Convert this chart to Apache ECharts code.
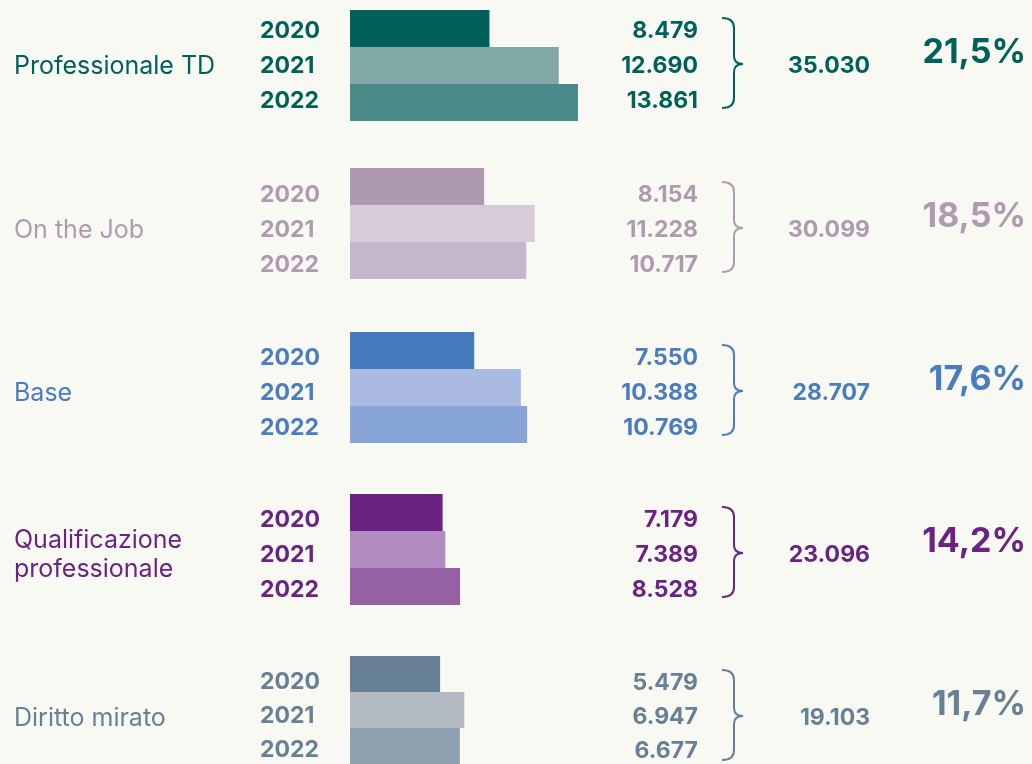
<!DOCTYPE html>
<html>
<head>
<meta charset="utf-8">
<script src="https://cdn.jsdelivr.net/npm/echarts@6/dist/echarts.min.js"></script>
<style>
  html, body { margin: 0; padding: 0; background: #f9f9f4; }
  #main { width: 1032px; height: 764px; }
</style>
</head>
<body>
<div id="main"></div>
<script>
// dati
var categorie = ['Professionale TD', 'On the Job', 'Base', 'Qualificazione\nprofessionale', 'Diritto mirato'];
var anni = ['2020', '2021', '2022'];
var valori = [
    [8479, 12690, 13861],
    [8154, 11228, 10717],
    [7550, 10388, 10769],
    [7179, 7389, 8528],
    [5479, 6947, 6677]
];
var percentuali = ['21,5%', '18,5%', '17,6%', '14,2%', '11,7%'];
// fondo scala di ogni gruppo (il gruppo 4 nell'originale ha barre più corte)
var assiMax = [20000, 20000, 20000, 25500, 20000];

// colori per gruppo: testo, barre 2020/2021/2022
var coloriTesto = ['#00605a', '#b09ab0', '#4a7cc0', '#6b2383', '#678096'];
var coloriBarre = [
    ['#00605a', '#80a8a6', '#4a8a88'],
    ['#ae9ab0', '#d8cbd9', '#c5b6c9'],
    ['#457bbd', '#aabae2', '#87a5d6'],
    ['#6b2383', '#b08bc0', '#9461a5'],
    ['#678096', '#b3bac4', '#8fa1b0']
];

var font = 'Inter, "Noto Sans", sans-serif';
var gridTops = [10, 168, 332, 494, 656];   // bordo alto delle barre
var centriTesto = [64, 228, 391, 553, 716]; // riga centrale delle etichette
var gridH = 111;
var passoRighe = 35;
var sizeNum = 23;
var dyTesto = 2; // correzione ottica del verticalAlign middle

function fmt(n) {
    return String(n).replace(/\B(?=(\d{3})+(?!\d))/g, '.');
}

// spostamento verticale tra centro barra e riga di testo
function scarto(i, j) {
    var yTesto = centriTesto[i] + passoRighe * (j - 1) + dyTesto;
    var yBarra = gridTops[i] + gridH / 6 + j * gridH / 3;
    return yTesto - yBarra;
}
function pad(d) {
    return d >= 0 ? [2 * d, 0, 0, 0] : [0, 0, -2 * d, 0];
}

var myChart = echarts.init(document.getElementById('main'));

var grids = [], xAxes = [], yAxes = [], series = [], graphics = [];

function curva(x1, y1, cx1, cy1, cx2, cy2, x2, y2, col) {
    return {
        type: 'bezierCurve',
        shape: { x1: x1, y1: y1, cpx1: cx1, cpy1: cy1, cpx2: cx2, cpy2: cy2, x2: x2, y2: y2 },
        style: { stroke: col, lineWidth: 2, fill: 'none' }
    };
}
function linea(x1, y1, x2, y2, col) {
    return {
        type: 'line',
        shape: { x1: x1, y1: y1, x2: x2, y2: y2 },
        style: { stroke: col, lineWidth: 2 }
    };
}

for (var i = 0; i < categorie.length; i++) {
    var gTop = gridTops[i];
    var cy = centriTesto[i];
    var col = coloriTesto[i];

    var rich = {};
    for (var j = 0; j < anni.length; j++) {
        rich['r' + j] = {
            color: col, fontFamily: font, fontWeight: 'bold', fontSize: sizeNum,
            padding: pad(scarto(i, j))
        };
    }

    grids.push({ left: 350, top: gTop, width: 329, height: gridH });
    xAxes.push({
        gridIndex: i, type: 'value', min: 0, max: assiMax[i],
        show: false
    });
    yAxes.push({
        gridIndex: i, type: 'category', data: anni, inverse: true,
        axisLine: { show: false }, axisTick: { show: false },
        axisLabel: {
            margin: 90, align: 'left',
            color: col, fontFamily: font, fontWeight: 'bold', fontSize: sizeNum,
            formatter: function (v, idx) { return '{r' + idx + '|' + v + '}'; },
            rich: rich
        }
    });
    series.push({
        type: 'bar',
        xAxisIndex: i, yAxisIndex: i,
        barCategoryGap: 0,
        data: valori[i].map(function (v, j) {
            return {
                value: v,
                itemStyle: { color: coloriBarre[i][j] },
                label: { position: [348, gridH / 6 + scarto(i, j)] }
            };
        }),
        label: {
            show: true,
            align: 'right', verticalAlign: 'middle',
            color: col, fontFamily: font, fontWeight: 'bold', fontSize: sizeNum,
            formatter: function (p) { return fmt(p.value); }
        },
        silent: true
    });

    var totale = valori[i].reduce(function (a, b) { return a + b; }, 0);

    // nome categoria
    graphics.push({
        type: 'text', x: 14, y: cy + dyTesto,
        style: {
            text: categorie[i], fill: col, font: '25px ' + font,
            lineHeight: 29, verticalAlign: 'middle'
        }
    });
    // parentesi graffa
    var t = cy - 46, b = cy + 44, m = cy;
    graphics.push(curva(722, t, 730, t, 734, t + 3, 734, t + 10, col));
    graphics.push(linea(734, t + 10, 734, m - 8, col));
    graphics.push(curva(734, m - 8, 734, m - 3, 737, m, 743, m, col));
    graphics.push(curva(743, m, 737, m, 734, m + 3, 734, m + 8, col));
    graphics.push(linea(734, m + 8, 734, b - 10, col));
    graphics.push(curva(734, b - 10, 734, b - 3, 730, b, 722, b, col));
    // totale
    graphics.push({
        type: 'text', x: 870, y: cy + dyTesto,
        style: {
            text: fmt(totale), fill: col, font: 'bold ' + sizeNum + 'px ' + font,
            align: 'right', verticalAlign: 'middle'
        }
    });
    // percentuale
    graphics.push({
        type: 'text', x: 1026, y: cy - 11,
        style: {
            text: percentuali[i], fill: col, font: 'bold 34px ' + font,
            align: 'right', verticalAlign: 'middle'
        }
    });
}

var option = {
    backgroundColor: '#f9f9f4',
    animation: false,
    grid: grids,
    xAxis: xAxes,
    yAxis: yAxes,
    series: series,
    graphic: graphics
};

myChart.setOption(option);
</script>
</body>
</html>
